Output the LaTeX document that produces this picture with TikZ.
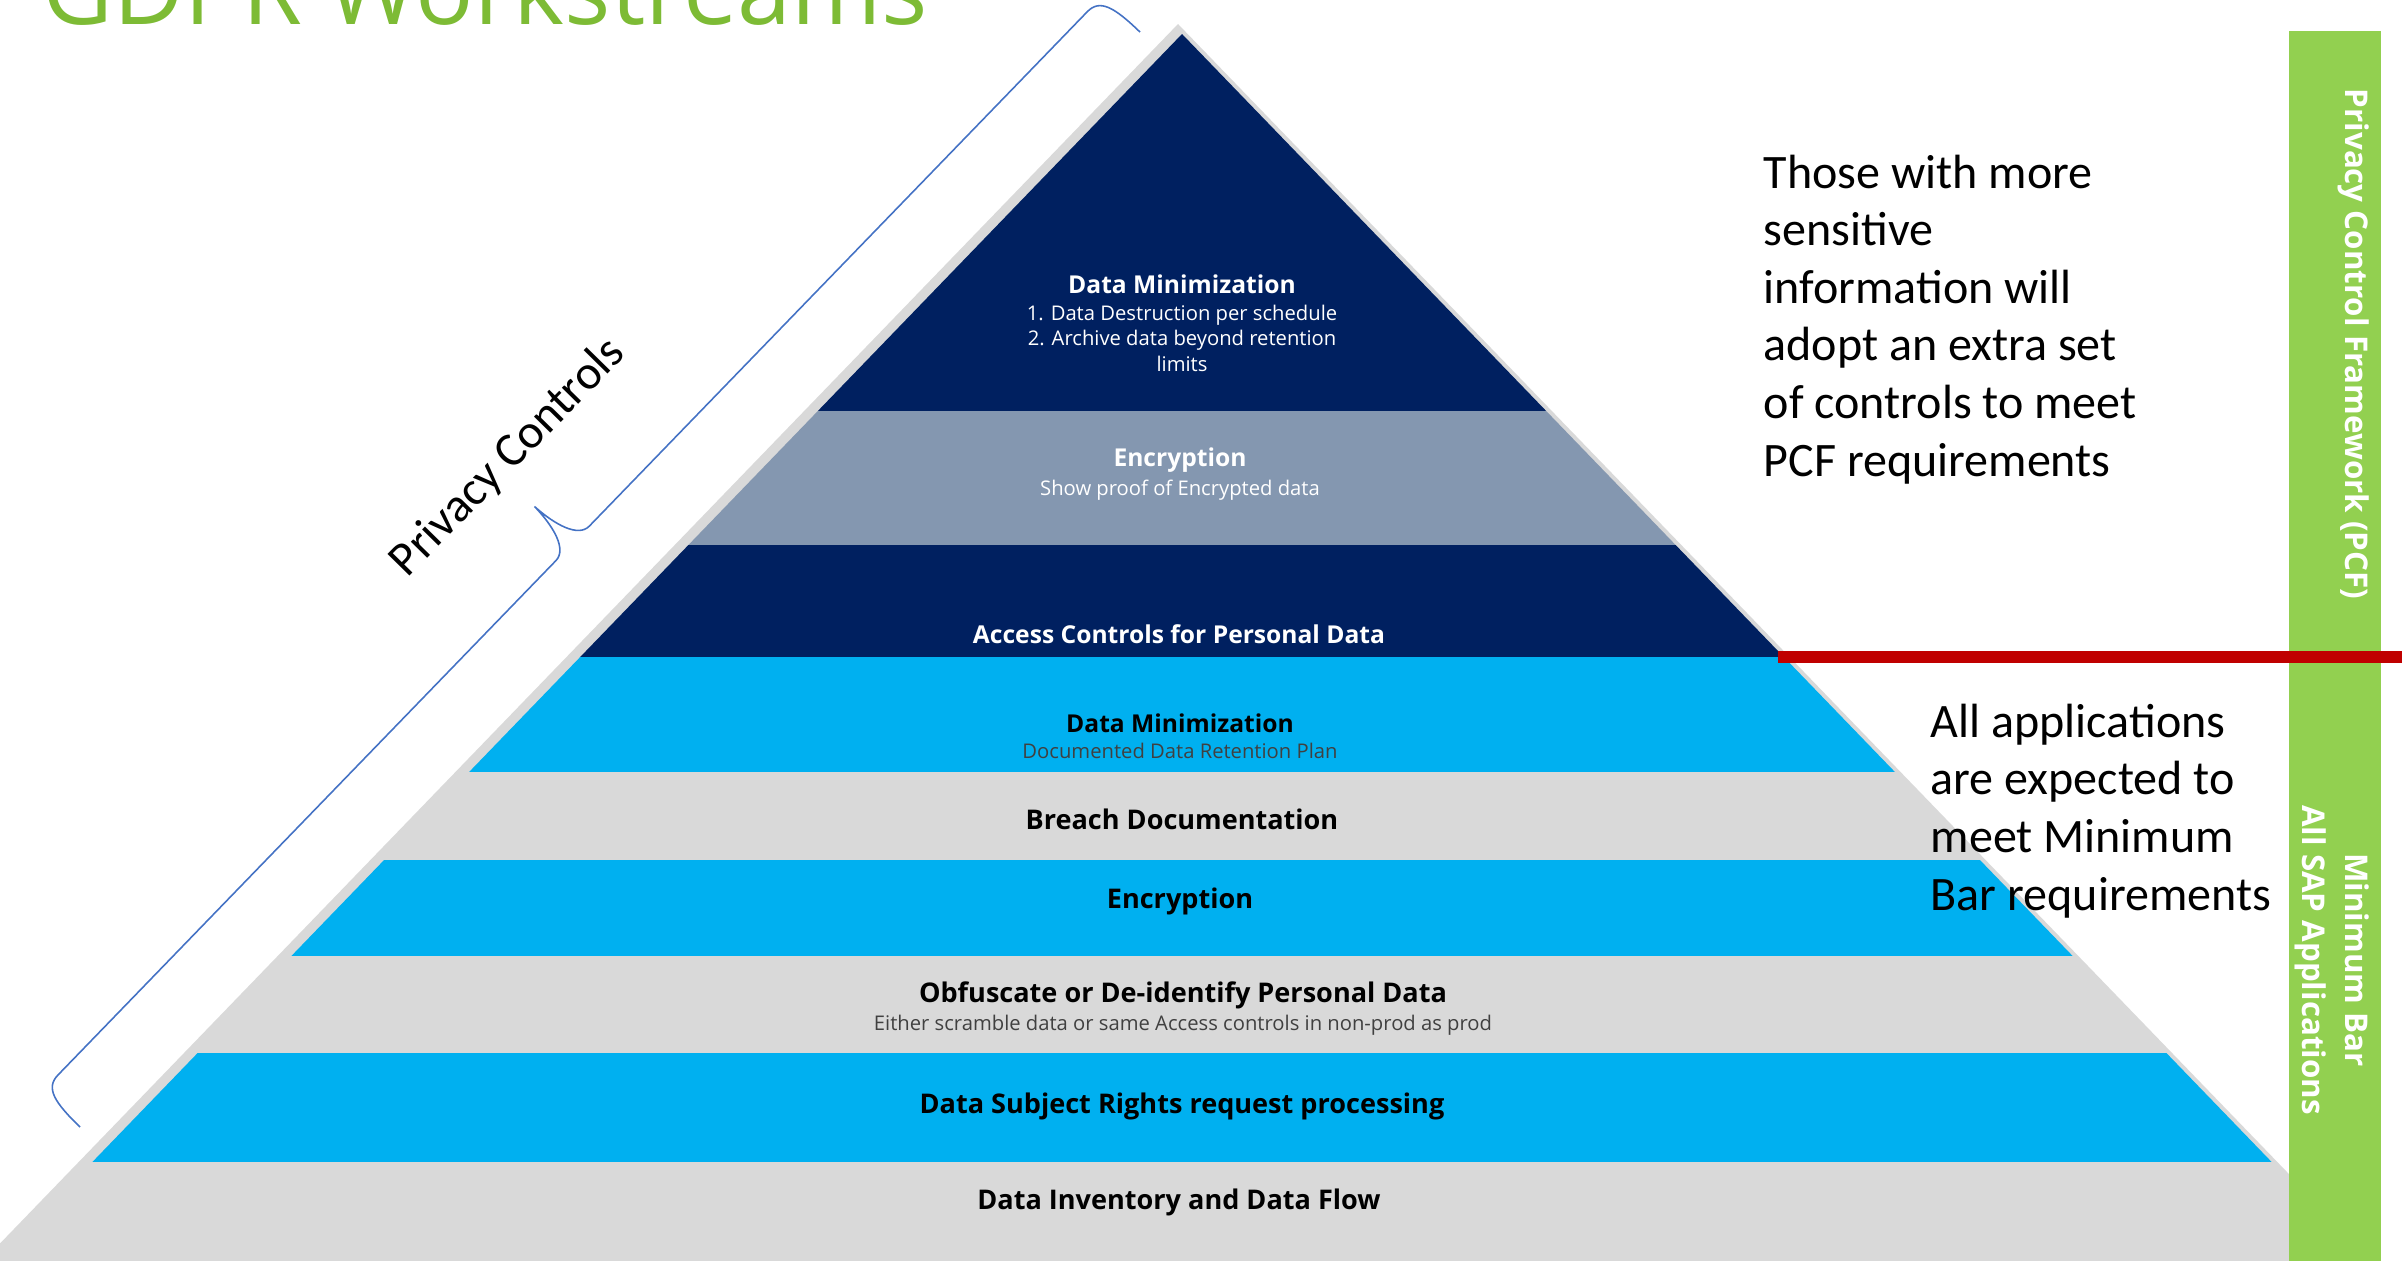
\documentclass[tikz,border=0pt]{standalone}
\usepackage{fontspec}
\setmainfont{Open Sans}
\newfontfamily\calibri{Carlito}
\usepackage{xcolor}

\definecolor{pnavy}{HTML}{002060}
\definecolor{pslate}{HTML}{8497B0}
\definecolor{psky}{HTML}{00B0F0}
\definecolor{plgrey}{HTML}{D9D9D9}
\definecolor{pgreen}{HTML}{92D050}
\definecolor{ptitle}{HTML}{7DBB35}
\definecolor{pred}{HTML}{C00000}
\definecolor{pbrace}{HTML}{4472C4}
\definecolor{psub}{HTML}{404040}

\tikzset{
  layerhead/.style={font=\bfseries\fontsize{7.0}{8.4}\selectfont, align=center, inner sep=0pt},
  layerbig/.style={font=\bfseries\fontsize{7.7}{9.2}\selectfont, align=center, inner sep=0pt},
  layersub/.style={font=\fontsize{5.75}{7.25}\selectfont, align=center, inner sep=0pt},
  sidenote/.style={font=\calibri\fontsize{13.66}{16.36}\selectfont, align=left, inner sep=0pt, anchor=base west},
  barlabel/.style={font=\bfseries\fontsize{8.9}{12}\selectfont, text=white, align=center, rotate=-90, inner sep=0pt},
}

\begin{document}
\begin{tikzpicture}[x=0.01cm, y=-0.01cm]
\useasboundingbox (0,0) rectangle (2407,1260);

% Set up the pyramid
\coordinate (apex) at (1182,34);
\coordinate (shadowapex) at (1178,24);

% Grey rim behind the layers
\fill[plgrey] (shadowapex) -- ({1178-0.966*1256},1280) -- ({1178+0.966*1256},1280) -- cycle;

% Layers, top to bottom
\foreach \ya/\yb/\col in {34/411/pnavy, 411/545/pslate, 545/657/pnavy, 657/772/psky,
    772/860/plgrey, 860/956/psky, 956/1053/plgrey, 1053/1162/psky, 1162/1280/plgrey}
  \fill[\col] ({1182-0.966*(\ya-34)},\ya) -- ({1182+0.966*(\ya-34)},\ya)
    -- ({1182+0.966*(\yb-34)},\yb) -- ({1182-0.966*(\yb-34)},\yb) -- cycle;

% Layer labels
\node[layerhead, white] (dmtop) at (1182,284) {Data Minimization};
\node[layersub, white] (dmtopsub) at (1182,338) {1. Data Destruction per schedule\\2. Archive data beyond retention\\limits};
\node[layerhead, white] (enctop) at (1180,460) {Encryption};
\node[layersub, white] (enctopsub) at (1180,490) {Show proof of Encrypted data};
\node[layerhead, white] (access) at (1179,634) {Access Controls for Personal Data};
\node[layerhead] (dmlow) at (1180,723) {Data Minimization};
\node[layersub, psub] (dmlowsub) at (1180,751) {Documented Data Retention Plan};
\node[layerbig] (breach) at (1182,819) {Breach Documentation};
\node[layerbig] (enclow) at (1180,901) {Encryption};
\node[layerbig] (obfus) at (1183,995) {Obfuscate or De-identify Personal Data};
\node[layersub, psub] (obfussub) at (1183,1025) {Either scramble data or same Access controls in non-prod as prod};
\node[layerbig] (dsr) at (1182,1106) {Data Subject Rights request processing};
\node[layerbig] (inventory) at (1179,1202) {Data Inventory and Data Flow};

% Title
\node[font=\fontsize{27.6}{33}\selectfont, text=ptitle, anchor=base west, inner sep=0pt] (title) at (42,24) {GDPR Workstreams};

% Brace along the left side (drawn along its own axis)
\coordinate (bracelow) at (80,1127);
\coordinate (bracehigh) at (1140,32);
\begin{scope}[shift={(bracelow)}, rotate=45.93, y=0.01cm]
\draw[pbrace, line width=0.45pt] (0,0) .. controls (0,36) and (4,52) .. (22,52) -- (738,52)
  .. controls (754,52) and (761,78) .. (762,105) .. controls (763,78) and (770,52) .. (786,52)
  -- (1502,52) .. controls (1520,52) and (1524,36) .. (1524,0);
\end{scope}
\node[font=\calibri\fontsize{13.66}{16.36}\selectfont, rotate=45.5, inner sep=0pt] (privacy) at (508,458) {Privacy Controls};

% Notes on the right
\node[sidenote] (pcfnote) at (1763,476) {Those with more\\sensitive\\information will\\adopt an extra set\\of controls to meet\\PCF requirements};
\node[sidenote] (minnote) at (1930,910) {All applications\\are expected to\\meet Minimum\\Bar requirements};

% Green bar
\fill[pgreen] (2289,31) rectangle (2381,1280);
\node[barlabel] (pcfbar) at (2354,344) {Privacy Control Framework (PCF)};
\node[barlabel] (minbar) at (2332,960) {Minimum Bar\\All SAP Applications};

% Red divider
\coordinate (redstart) at (1778,657);
\coordinate (redend) at (2402,657);
\draw[pred, line width=0.126cm] (redstart) -- (redend);
\end{tikzpicture}
\end{document}
